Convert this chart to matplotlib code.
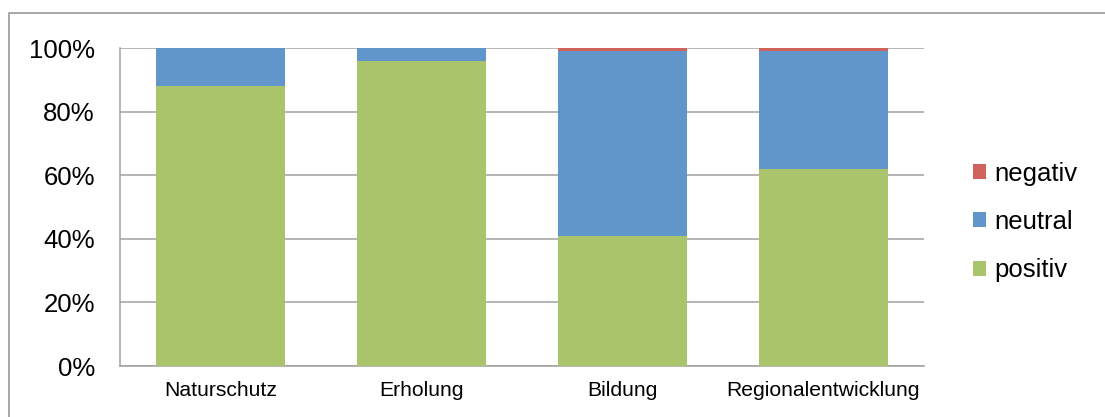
import numpy as np
import matplotlib.pyplot as plt
from matplotlib.lines import Line2D
from matplotlib.ticker import PercentFormatter

plt.rcParams['font.family'] = ['Liberation Sans', 'DejaVu Sans']

# data (shares in %)
categories = ["Naturschutz", "Erholung", "Bildung", "Regionalentwicklung"]
positiv = [88, 96, 41, 62]
neutral = [12, 4, 58, 37]
negativ = [0, 0, 1, 1]

c_pos = "#AAC46B"
c_neu = "#6096C9"
c_neg = "#D0635E"
grid_c = "#A0A0A0"

W, H = 1105, 417
fig = plt.figure(figsize=(W / 100, H / 100), dpi=100, facecolor="white")
ax = fig.add_axes([120 / W, 1 - 366 / H, 804 / W, 318 / H])

x = np.arange(len(categories))
pos = np.array(positiv)
neu = np.array(neutral)
neg = np.array(negativ)
bw = 0.645

ax.bar(x, pos, width=bw, color=c_pos, label="positiv", zorder=3)
ax.bar(x, neu, width=bw, bottom=pos, color=c_neu, label="neutral", zorder=3)
ax.bar(x, neg, width=bw, bottom=pos + neu, color=c_neg, label="negativ", zorder=3)

ax.set_xlim(-0.5, len(categories) - 0.5)
ax.set_ylim(0, 100)
ax.set_yticks(np.arange(0, 101, 20))
ax.yaxis.set_major_formatter(PercentFormatter(decimals=0))
ax.set_xticks(x)
ax.set_xticklabels(categories)

ax.grid(axis="y", color=grid_c, linewidth=1.1, zorder=1)
for s in ["top", "right"]:
    ax.spines[s].set_visible(False)
for s in ["left", "bottom"]:
    ax.spines[s].set_color(grid_c)
    ax.spines[s].set_linewidth(1.1)

ax.tick_params(axis="y", length=0, pad=18, labelsize=18.5, colors="black")
ax.tick_params(axis="x", length=0, pad=11, labelsize=15.2, colors="black")

# legend, top entry first
handles, labels = ax.get_legend_handles_labels()
fig.legend(handles[::-1], labels[::-1], loc="center left",
           bbox_to_anchor=(973 / W, 1 - 222 / H), frameon=False,
           fontsize=18.5, handlelength=0.52, handleheight=0.52,
           handletextpad=0.3, labelspacing=0.95, borderpad=0, borderaxespad=0)

# outer chart border (only top and left visible)
fig.add_artist(Line2D([9 / W, 9 / W, 1.0], [0.0, 1 - 13 / H, 1 - 13 / H],
                      transform=fig.transFigure, color=grid_c, linewidth=1.3))

fig.savefig("out.png", dpi=100, facecolor="white")
